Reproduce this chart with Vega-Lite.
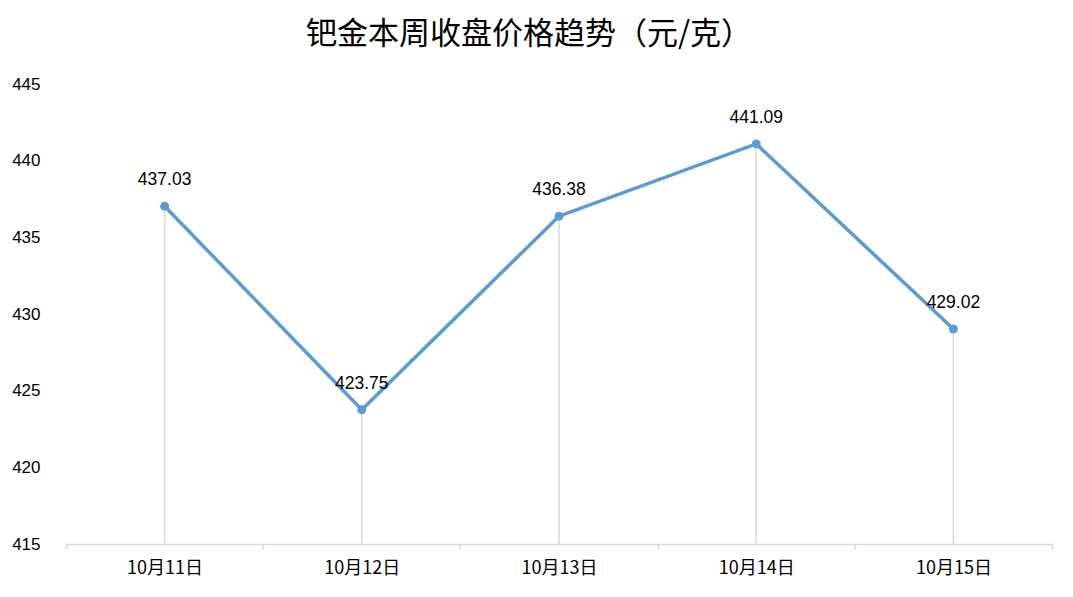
{
  "$schema": "https://vega.github.io/schema/vega-lite/v6.json",
  "autosize": {"type": "none"},
  "width": 986,
  "height": 460,
  "padding": {"left": 66, "top": 84, "right": 21, "bottom": 53},
  "background": "white",
  "title": {
    "text": "钯金本周收盘价格趋势（元/克）",
    "font": "Noto Sans CJK SC",
    "fontSize": 31,
    "fontWeight": "normal",
    "color": "#000000",
    "anchor": "middle",
    "dx": -30,
    "offset": 24
  },
  "data": {
    "values": [
      {"date": "10月11日", "price": 437.03},
      {"date": "10月12日", "price": 423.75},
      {"date": "10月13日", "price": 436.38},
      {"date": "10月14日", "price": 441.09},
      {"date": "10月15日", "price": 429.02}
    ]
  },
  "config": {"view": {"stroke": null}},
  "encoding": {
    "x": {
      "field": "date",
      "type": "ordinal",
      "sort": null,
      "scale": {"paddingInner": 0, "paddingOuter": 0},
      "axis": {
        "title": null,
        "labelAngle": 0,
        "labelFont": "Noto Sans CJK SC",
        "labelFontSize": 18,
        "labelColor": "#000000",
        "labelPadding": 10,
        "domainColor": "#d9d9d9",
        "domainWidth": 1.5,
        "tickColor": "#d9d9d9",
        "tickWidth": 1.5,
        "tickSize": 5,
        "tickBand": "extent",
        "grid": false
      }
    }
  },
  "layer": [
    {
      "mark": {"type": "rule", "color": "#d9d9d9", "strokeWidth": 1.5},
      "encoding": {
        "y": {"field": "price", "type": "quantitative"},
        "y2": {"datum": 415}
      }
    },
    {
      "mark": {"type": "line", "color": "#5b9bd5", "strokeWidth": 3.5},
      "encoding": {
        "y": {
          "field": "price",
          "type": "quantitative",
          "scale": {"domain": [415, 445], "nice": false, "zero": false},
          "axis": {
            "title": null,
            "values": [415, 420, 425, 430, 435, 440, 445],
            "domain": false,
            "ticks": false,
            "grid": false,
            "labelFont": "Liberation Sans",
            "labelFontSize": 17,
            "labelColor": "#000000",
            "labelPadding": 26
          }
        }
      }
    },
    {
      "mark": {"type": "point", "filled": true, "color": "#5b9bd5", "size": 80, "opacity": 1},
      "encoding": {"y": {"field": "price", "type": "quantitative"}}
    },
    {
      "mark": {"type": "text", "dy": -26, "font": "Liberation Sans", "fontSize": 17.5, "color": "#000000"},
      "encoding": {
        "y": {"field": "price", "type": "quantitative"},
        "text": {"field": "price", "type": "quantitative", "format": ".2f"}
      }
    }
  ]
}
